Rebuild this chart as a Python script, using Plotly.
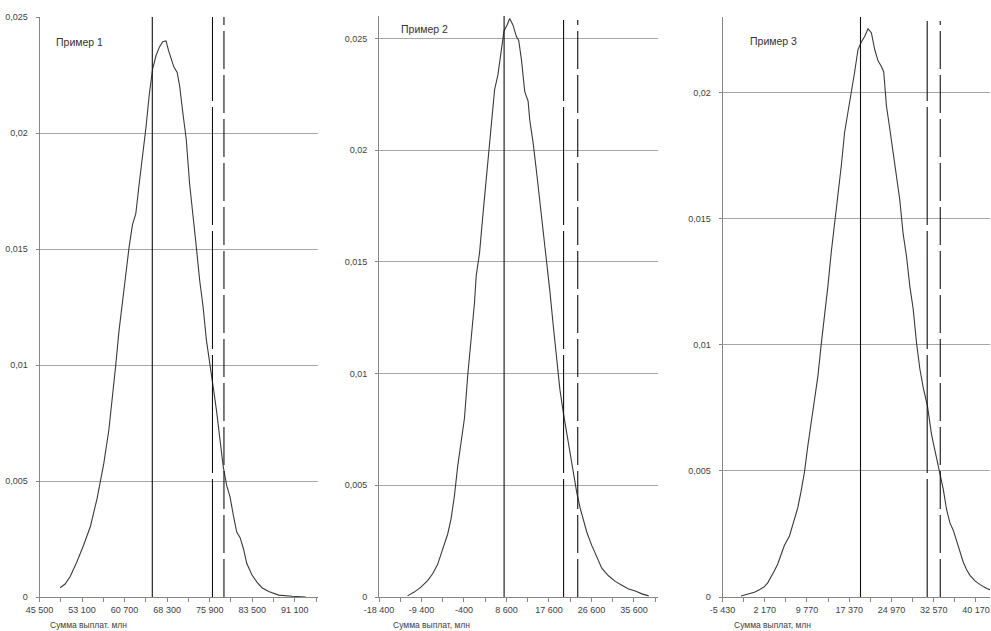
import plotly.graph_objects as go

# ---------------- data ----------------
# Panel 1
p1_x = [49180, 50081, 50983, 52185, 53387, 54589, 55791, 56993, 57894, 58495, 59096, 59697, 60298, 60899,
        61500, 62101, 62702, 63303, 63904, 64505, 65106, 65707, 66308, 66909, 67510, 68111, 68532, 69013,
        69494, 70095, 70515, 71116, 71717, 72318, 72919, 73520, 74121, 74722, 75323, 75924, 76525, 77126,
        77727, 78328, 78929, 79530, 80131, 80732, 81333, 81934, 82535, 83437, 84338, 85240, 86442, 88245,
        90649, 93053]
p1_y = [0.00040, 0.00056, 0.00088, 0.00152, 0.00224, 0.00304, 0.00425, 0.00577, 0.00721, 0.00850, 0.00994,
        0.01146, 0.01267, 0.01395, 0.01507, 0.01604, 0.01652, 0.01780, 0.01892, 0.02021, 0.02165, 0.02277,
        0.02333, 0.02370, 0.02393, 0.02397, 0.02357, 0.02325, 0.02285, 0.02261, 0.02205, 0.02085, 0.01972,
        0.01780, 0.01652, 0.01507, 0.01363, 0.01251, 0.01106, 0.00994, 0.00906, 0.00802, 0.00673, 0.00561,
        0.00481, 0.00433, 0.00352, 0.00280, 0.00256, 0.00208, 0.00144, 0.00096, 0.00064, 0.00040, 0.00024,
        0.00008, 0.00003, 0.0]
p1_lines = [65650, 76400, 78450]
p1_ticks = [45500, 53100, 60700, 68300, 75900, 83500, 91100]
p1_ticktext = ["45 500", "53 100", "60 700", "68 300", "75 900", "83 500", "91 100"]
p1_range = [45500, 95250]
p1_ymax = 0.025

# Panel 2
p2_x = [-12359, -10940, -9521, -8102, -7037, -5973, -4909, -3845, -3135, -2426, -1716, -1007, -297, 412,
        1122, 1831, 2186, 2896, 3605, 4315, 5024, 5734, 6088, 6798, 7507, 8075, 8785, 9281, 9991, 10700,
        11197, 11764, 12474, 13183, 13538, 14248, 14957, 15667, 16376, 17086, 17795, 18505, 19214, 19924,
        20633, 21343, 22052, 22762, 23471, 24181, 24890, 25600, 26664, 27728, 28792, 30211, 31630, 33049,
        34468, 35887, 37306, 38725]
p2_y = [0.00005, 0.00022, 0.00044, 0.00073, 0.00104, 0.00146, 0.00214, 0.00282, 0.00350, 0.00452, 0.00588,
        0.00707, 0.00800, 0.00996, 0.01149, 0.01318, 0.01437, 0.01539, 0.01709, 0.01879, 0.02032, 0.02185,
        0.02270, 0.02338, 0.02440, 0.02533, 0.02562, 0.02589, 0.02559, 0.02508, 0.02491, 0.02406, 0.02261,
        0.02219, 0.02134, 0.02032, 0.01905, 0.01777, 0.01641, 0.01522, 0.01369, 0.01216, 0.01064, 0.00928,
        0.00826, 0.00732, 0.00647, 0.00554, 0.00469, 0.00401, 0.00350, 0.00291, 0.00231, 0.00180, 0.00129,
        0.00095, 0.00070, 0.00053, 0.00036, 0.00027, 0.00014, 0.00005]
p2_lines = [8100, 20700, 23700]
p2_ticks = [-18400, -9400, -400, 8600, 17600, 26600, 35600]
p2_ticktext = ["-18 400", "-9 400", "-400", "8 600", "17 600", "26 600", "35 600"]
p2_range = [-18400, 40700]
p2_ymax = 0.026

# Panel 3
p3_x = [-2105, -902, 301, 1204, 2106, 2707, 3309, 3910, 4512, 5113, 5715, 6617, 7519, 8121, 8722, 9324,
        9925, 10527, 11128, 11730, 12331, 12933, 13534, 14136, 14737, 15339, 15940, 16542, 17143, 17745,
        18346, 18948, 19549, 20151, 20752, 21354, 21955, 22557, 23158, 23580, 24061, 24662, 25264, 25865,
        26467, 27068, 27670, 28271, 28873, 29474, 30076, 30677, 31459, 32181, 33083, 33685, 34286, 34888,
        35489, 36091, 36692, 37294, 37895, 38497, 39098, 40000, 40903, 42106, 42707]
p3_y = [0.00004, 0.00011, 0.00019, 0.00029, 0.00041, 0.00056, 0.00078, 0.00104, 0.00131, 0.00168, 0.00205,
        0.00242, 0.00309, 0.00354, 0.00421, 0.00496, 0.00600, 0.00697, 0.00786, 0.00875, 0.01002, 0.01114,
        0.01233, 0.01367, 0.01479, 0.01605, 0.01709, 0.01843, 0.01918, 0.02000, 0.02082, 0.02171, 0.02201,
        0.02223, 0.02253, 0.02238, 0.02171, 0.02126, 0.02104, 0.02082, 0.01948, 0.01858, 0.01769, 0.01680,
        0.01575, 0.01441, 0.01352, 0.01233, 0.01143, 0.01009, 0.00905, 0.00831, 0.00756, 0.00644, 0.00548,
        0.00496, 0.00428, 0.00347, 0.00294, 0.00265, 0.00220, 0.00175, 0.00138, 0.00108, 0.00086, 0.00064,
        0.00049, 0.00034, 0.00029]
p3_lines = [19400, 31400, 33750]
p3_ticks = [-5430, 2170, 9770, 17370, 24970, 32570, 40170]
p3_ticktext = ["-5 430", "2 170", "9 770", "17 370", "24 970", "32 570", "40 170"]
p3_range = [-5430, 42700]
p3_ymax = 0.023

y_ticks = [0, 0.005, 0.01, 0.015, 0.02, 0.025]
y_ticktext = ["0", "0,005", "0,01", "0,015", "0,02", "0,025"]

titles = ["Пример 1", "Пример 2", "Пример 3"]
axis_titles = ["Сумма выплат. млн", "Сумма выплат, млн", "Сумма выплат, млн"]

# ---------------- figure ----------------
W, H = 991, 631
panels = [
    dict(x=p1_x, y=p1_y, lines=p1_lines, ticks=p1_ticks, ticktext=p1_ticktext, rng=p1_range, ymax=p1_ymax,
         dom=(39.5, 318), top=17, title_pos=(54, 42), axtitle_x=48, dash_top=1.0),
    dict(x=p2_x, y=p2_y, lines=p2_lines, ticks=p2_ticks, ticktext=p2_ticktext, rng=p2_range, ymax=p2_ymax,
         dom=(379, 658), top=16, title_pos=(399, 29), axtitle_x=391, dash_top=0.993),
    dict(x=p3_x, y=p3_y, lines=p3_lines, ticks=p3_ticks, ticktext=p3_ticktext, rng=p3_range, ymax=p3_ymax,
         dom=(722.5, 990), top=17, title_pos=(748, 41), axtitle_x=732, dash_top=0.993),
]

bottom_px = 597
fig = go.Figure()
FONT = "Liberation Sans"
dashes = ["solid", "118px,6px", "38px,6px"]

layout = dict(
    width=W, height=H, margin=dict(l=0, r=0, t=0, b=0, autoexpand=False),
    paper_bgcolor="white", plot_bgcolor="white", showlegend=False,
    font=dict(family=FONT, size=9, color="#595959"),
    annotations=[],
)

for i, p in enumerate(panels):
    n = "" if i == 0 else str(i + 1)
    xa, ya = "x" + n, "y" + n
    fig.add_trace(go.Scatter(x=p["x"], y=p["y"], mode="lines", xaxis=xa, yaxis=ya,
                             line=dict(color="#3a3a3a", width=1.1), hoverinfo="skip"))
    for j, v in enumerate(p["lines"]):
        top = p["ymax"] if j == 0 else p["ymax"] * p["dash_top"]
        fig.add_trace(go.Scatter(x=[v, v], y=[0, top], mode="lines", xaxis=xa, yaxis=ya,
                                 line=dict(color="#111111", width=1.1, dash=dashes[j]), hoverinfo="skip"))
    step = p["ticks"][1] - p["ticks"][0]
    minor_vals = [t + step / 2 for t in p["ticks"]]
    layout["xaxis" + n] = dict(
        domain=[p["dom"][0] / W, p["dom"][1] / W], anchor=ya, range=p["rng"], automargin=False,
        tickmode="array", tickvals=p["ticks"], ticktext=p["ticktext"],
        ticks="outside", ticklen=4, tickcolor="#868686", tickwidth=1,
        minor=dict(tickmode="array", tickvals=minor_vals, ticks="outside", ticklen=4,
                   tickcolor="#868686", tickwidth=1, showgrid=False),
        showgrid=False, zeroline=False, showline=True, linecolor="#868686", linewidth=1,
        tickfont=dict(family=FONT, size=9, color="#404040"), fixedrange=True,
    )
    layout["yaxis" + n] = dict(
        domain=[(H - bottom_px) / H, (H - p["top"]) / H], anchor=xa, range=[0, p["ymax"]], automargin=False,
        tickmode="array", tickvals=y_ticks, ticktext=y_ticktext,
        ticks="outside", ticklen=3, tickcolor="#868686", ticklabelstandoff=6,
        showgrid=True, gridcolor="#a6a6a6", gridwidth=1, zeroline=False,
        showline=True, linecolor="#868686", linewidth=1,
        tickfont=dict(family=FONT, size=9, color="#404040"), fixedrange=True,
    )
    layout["annotations"].append(dict(
        text=titles[i], xref="paper", yref="paper", x=p["title_pos"][0] / W, y=(H - p["title_pos"][1]) / H,
        xanchor="left", yanchor="middle", showarrow=False,
        font=dict(family=FONT, size=10.5, color="#333333")))
    layout["annotations"].append(dict(
        text=axis_titles[i], xref="paper", yref="paper", x=p["axtitle_x"] / W, y=(H - 625) / H,
        xanchor="left", yanchor="middle", showarrow=False,
        font=dict(family=FONT, size=8.5, color="#404040")))

fig.update_layout(**layout)
fig.write_html("out.html", config={"displayModeBar": False},
               post_script="document.body.style.margin='0';document.body.style.overflow='hidden';")
